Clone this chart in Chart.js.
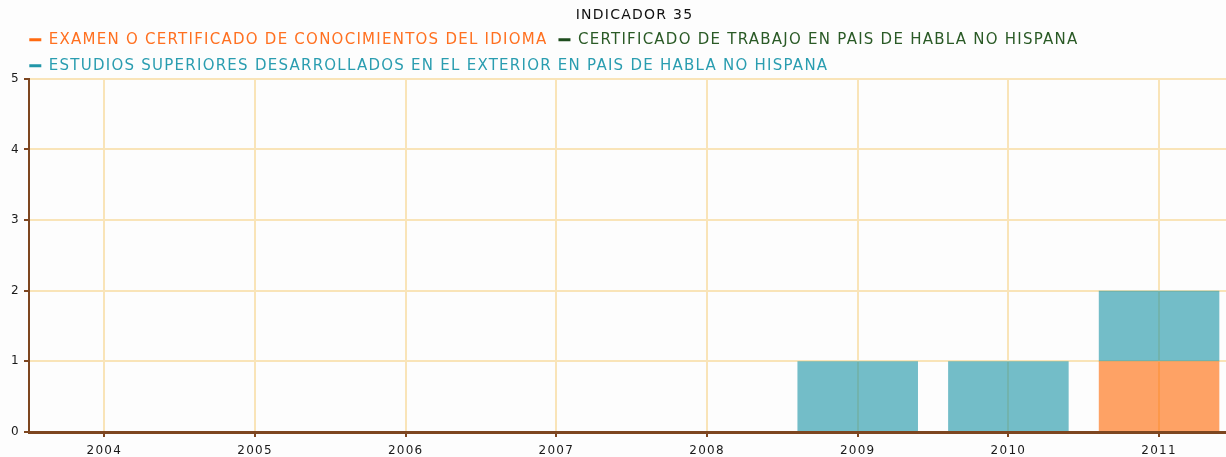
<!DOCTYPE html>
<html>
<head>
<meta charset="utf-8">
<script src="https://cdn.jsdelivr.net/npm/chart.js@4"></script>
<style>
  html, body { margin: 0; padding: 0; background: #fdfdfd; overflow: hidden; }
  #wrap { width: 1240px; height: 457px; }
</style>
</head>
<body>
<div id="wrap"><canvas id="c" width="1240" height="457"></canvas></div>
<script>
const chartTitle = 'INDICADOR 35';
const categories = ['2004', '2005', '2006', '2007', '2008', '2009', '2010', '2011'];
const seriesNames = [
  'EXAMEN O CERTIFICADO DE CONOCIMIENTOS DEL IDIOMA',
  'CERTIFICADO DE TRABAJO EN PAIS DE HABLA NO HISPANA',
  'ESTUDIOS SUPERIORES DESARROLLADOS EN EL EXTERIOR EN PAIS DE HABLA NO HISPANA'
];
const examenValues   = [0, 0, 0, 0, 0, 0, 0, 1];
const trabajoValues  = [0, 0, 0, 0, 0, 0, 0, 0];
const estudiosValues = [0, 0, 0, 0, 0, 1, 1, 1];
const yTickValues = [0, 1, 2, 3, 4, 5];

const barColors   = ['rgba(255,102,0,0.6)', 'rgba(30,80,30,0.6)', 'rgba(24,146,165,0.6)'];
const dashColors  = ['#ff6a10', '#1e4d1e', '#2196a8'];
const textColors  = ['#ff7020', '#2a5a26', '#2a9db0'];
const brown = '#7d4620';
const gridColor = '#f9e4b8';
const fontFamily = '"DejaVu Sans", Verdana, sans-serif';

const tweaks = {
  id: 'tweaks',
  beforeUpdate(chart) { chart.ctx.letterSpacing = '1.25px'; },
  afterLayout(chart) {
    const t = chart.titleBlock, l = chart.legend;
    if (t) {
      t.top += 7.1; t.bottom += 7.1;
      const dx = 634.5 - (t.left + t.right) / 2;
      t.left += dx; t.right += dx;
    }
    if (l) {
      l.top += 4.4; l.bottom += 4.4;
      l.left += 18.3; l.right += 18.3;
    }
  }
};

new Chart(document.getElementById('c'), {
  type: 'bar',
  data: {
    labels: categories,
    datasets: [
      { label: seriesNames[0], data: examenValues, backgroundColor: barColors[0], borderWidth: 0 },
      { label: seriesNames[1], data: trabajoValues, backgroundColor: barColors[1], borderWidth: 0 },
      { label: seriesNames[2], data: estudiosValues, backgroundColor: barColors[2], borderWidth: 0 }
    ]
  },
  options: {
    responsive: false,
    animation: false,
    devicePixelRatio: 1,
    categoryPercentage: 1,
    barPercentage: 0.8,
    font: { family: fontFamily },
    layout: { padding: { left: 0, right: 5.6, top: 0, bottom: 0 } },
    plugins: {
      tooltip: { enabled: false },
      title: {
        display: true,
        text: chartTitle,
        color: '#111',
        font: { family: fontFamily, size: 14, weight: 'normal', lineHeight: 1.2 },
        padding: { top: 0, bottom: 0 }
      },
      legend: {
        display: true,
        position: 'top',
        align: 'start',
        labels: {
          font: { family: fontFamily, size: 15 },
          padding: 11,
          boxWidth: 12,
          boxHeight: 3,
          generateLabels(chart) {
            return chart.data.datasets.map((ds, i) => ({
              text: ds.label,
              fillStyle: dashColors[i],
              strokeStyle: dashColors[i],
              lineWidth: 0,
              fontColor: textColors[i],
              hidden: !chart.isDatasetVisible(i),
              datasetIndex: i
            }));
          }
        }
      }
    },
    scales: {
      x: {
        stacked: true,
        afterFit(scale) { scale.height = 25; },
        grid: { display: true, offset: false, color: gridColor, lineWidth: 2, drawTicks: true, tickLength: 5, tickColor: brown, tickWidth: 2 },
        border: { display: true, color: brown, width: 3 },
        ticks: { color: '#1a1a1a', padding: 7, maxRotation: 0, font: { family: fontFamily, size: 12 } }
      },
      y: {
        stacked: true,
        min: 0,
        max: 5,
        afterFit(scale) { scale.width = 29; },
        afterBuildTicks(scale) { scale.ticks = yTickValues.map(v => ({ value: v })); },
        grid: { color: gridColor, lineWidth: 2, drawTicks: true, tickLength: 5, tickColor: brown, tickWidth: 2 },
        border: { display: true, color: brown, width: 2 },
        ticks: { color: '#1a1a1a', padding: 4, font: { family: fontFamily, size: 12 } }
      }
    }
  },
  plugins: [tweaks]
});
</script>
</body>
</html>
